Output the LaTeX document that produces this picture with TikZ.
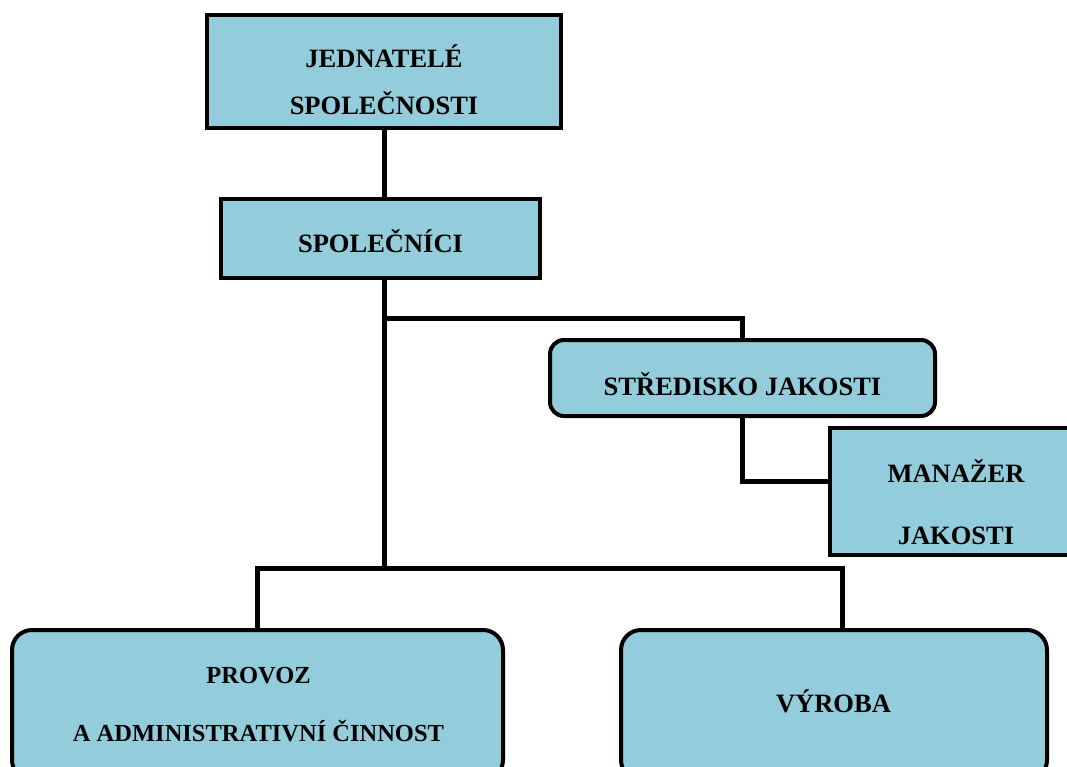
\documentclass[tikz,border=0pt]{standalone}
\usepackage{fontspec}
\setmainfont{Liberation Serif}
\definecolor{orgblue}{RGB}{147,205,219}
\tikzset{
  unit/.style={draw=black, line width=4pt, fill=orgblue, inner sep=0pt},
  unitround/.style={unit, rounded corners=14pt},
  unittext/.style={align=center, inner sep=0pt, font=\fontsize{26.5}{30}\selectfont\bfseries},
  link/.style={line width=5pt}
}
\begin{document}
\begin{tikzpicture}[x=1pt,y=-1pt]
\useasboundingbox (0,0) rectangle (1067,767);
\clip (0,0) rectangle (1067,767);

% boxes
\node (jed) [unit, minimum width=354pt, minimum height=113pt] at (384,71.5) {};
\node (spol) [unit, minimum width=319pt, minimum height=79pt] at (380.5,238.5) {};
\node (stred) [unitround, minimum width=385pt, minimum height=76pt] at (742.5,378) {};
\node (man) [unit, minimum width=260pt, minimum height=127pt] at (960,491.5) {};
\node (prov) [unitround, rounded corners=20pt, minimum width=491pt, minimum height=150pt] at (257.5,705) {};
\node (vyr) [unitround, rounded corners=20pt, minimum width=426pt, minimum height=150pt] at (834,705) {};

% texts
\node (jedtext) [unittext] at (384,80) {JEDNATELÉ\\[17pt]SPOLEČNOSTI};
\node (spoltext) [unittext] at (380.5,241.5) {SPOLEČNÍCI};
\node (stredtext) [unittext] at (742.5,384) {STŘEDISKO JAKOSTI};
\node (mantext) [unittext] at (956,502) {MANAŽER\\[32pt]JAKOSTI};
\node (provtext) [unittext, font=\fontsize{24.5}{30}\selectfont\bfseries] at (258.5,705) {PROVOZ\\[28pt]A ADMINISTRATIVNÍ ČINNOST};
\node (vyrtext) [unittext] at (833.5,701) {VÝROBA};

% links
\coordinate (qjoin) at (384,318);
\coordinate (split) at (384,568);
\draw[link] (jed.south) -- (jed.south |- spol.north);
\draw[link] (spol.south -| qjoin) -- (split);
\draw[link] (qjoin) -| (stred.north);
\draw[link] (stred.south) |- ([yshift=10.5pt]man.west);
\draw[link] (prov.north) |- (split) -| ([xshift=8pt]vyr.north);
\end{tikzpicture}
\end{document}
